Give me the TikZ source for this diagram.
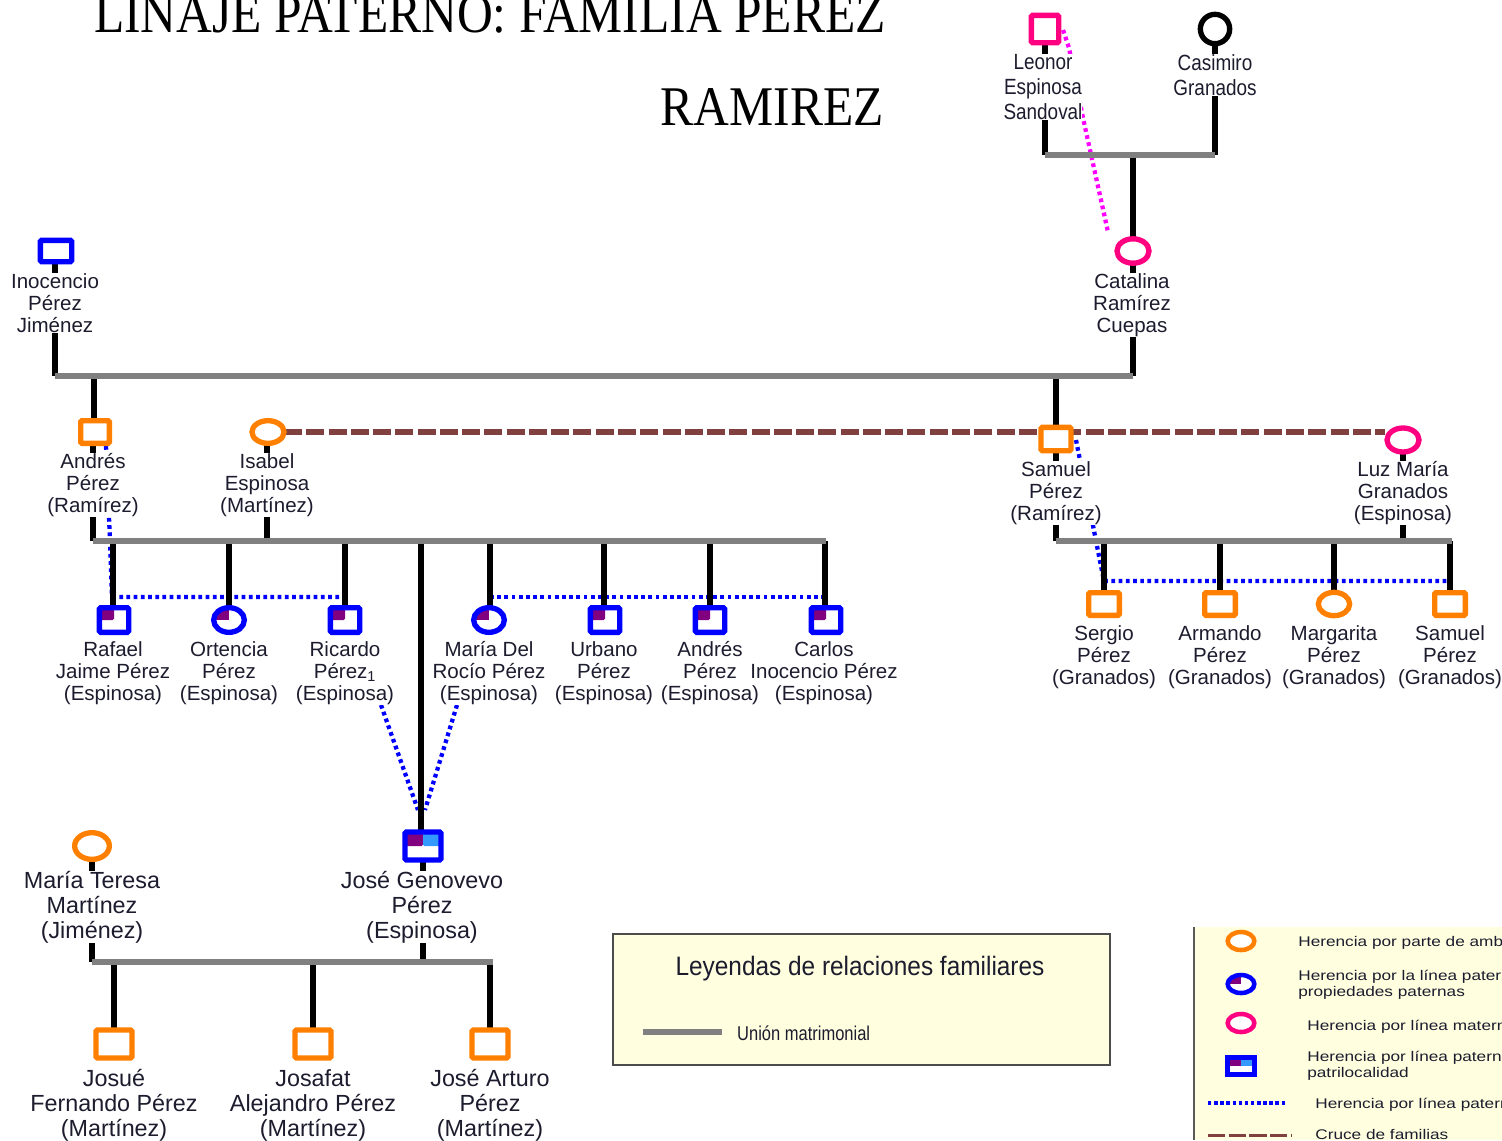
\documentclass[tikz,border=0pt]{standalone}
\usepackage{fontspec}
\setmainfont{Liberation Sans}
\newfontfamily\titlef{Liberation Serif}
\usetikzlibrary{shapes.geometric}
\definecolor{cOr}{HTML}{FF8000}
\definecolor{cBl}{HTML}{0000FF}
\definecolor{cPk}{HTML}{FF0080}
\definecolor{cMg}{HTML}{FF00FF}
\definecolor{cPu}{HTML}{800080}
\definecolor{cSk}{HTML}{3399FF}
\definecolor{cBr}{HTML}{804040}
\definecolor{cGr}{HTML}{808080}
\definecolor{cYl}{HTML}{FFFFE0}
\definecolor{cTx}{HTML}{1C1C2E}
\pgfdeclarelayer{dotlayer}
\pgfdeclarelayer{linelayer}
\pgfdeclarelayer{barlayer}
\pgfsetlayers{dotlayer,linelayer,barlayer,main}
\tikzset{
  x=0.75pt,y=-0.75pt,
  sym/.style={draw,fill=white,line width=4pt,inner sep=0pt,outer sep=0pt},
  sq/.style={sym,rectangle,rounded corners=1pt,minimum width=22pt,minimum height=18pt},
  sqbig/.style={sym,rectangle,rounded corners=1pt,minimum width=27pt,minimum height=21pt},
  el/.style={sym,ellipse,minimum width=24pt,minimum height=18pt},
  elbig/.style={sym,ellipse,minimum width=26pt,minimum height=20pt},
  quart/.style={path picture={\fill[cPu] (path picture bounding box.center) rectangle (path picture bounding box.north west);}},
  nm/.style={align=center,text=cTx,fill=white,inner sep=0pt,outer sep=0pt,font=\fontsize{15.4}{16.5}\selectfont},
  nmbig/.style={align=center,text=cTx,fill=white,inner sep=0pt,outer sep=0pt,font=\fontsize{17.5}{18.75}\selectfont},
  nmtop/.style={align=center,text=cTx,fill=white,inner sep=0pt,outer sep=0pt,transform shape,xscale=.86,font=\fontsize{16.5}{18.75}\selectfont},
  kin/.style={line width=4.2pt,black},
  bar/.style={line width=4.2pt,cGr},
  blue dots/.style={line width=3.2pt,cBl,dash pattern=on 2.8pt off 2.6pt},
  pink dots/.style={line width=3.2pt,cMg,dash pattern=on 2.8pt off 2.6pt},
  cross/.style={line width=3.8pt,cBr,dash pattern=on 13.5pt off 3.2pt},
  ttl/.style={inner sep=0pt,text=black,transform shape,xscale=.885,font=\titlef\fontsize{42}{46}\selectfont},
  legt/.style={anchor=west,inner sep=0pt,align=left,text=cTx,transform shape,xscale=1.23,font=\fontsize{10.5}{11.8}\selectfont},
}
\begin{document}
\begin{tikzpicture}
\useasboundingbox (0,0) rectangle (1502,1140);
\clip (0,0) rectangle (1502,1140);

% title
\node[ttl,anchor=base east] (t1) at (886,32) {LINAJE PATERNO: FAMILIA PEREZ};
\node[ttl,anchor=base east] (t2) at (884,125) {RAMIREZ};

% symbols
\node[sq,draw=cPk,minimum width=20.5pt,minimum height=20.5pt] (leonor) at (1045,29) {};
\node[el,draw=black,minimum width=22pt,minimum height=22pt] (casimiro) at (1215,29) {};
\node[sq,draw=cBl,minimum height=16pt,minimum width=23.5pt] (inocencio) at (56,251) {};
\node[el,draw=cPk,minimum height=18.3pt] (catalina) at (1133,251) {};
\node[sq,draw=cOr,minimum width=21.5pt,minimum height=17pt] (andres) at (95,432) {};
\node[el,draw=cOr,minimum height=17pt] (isabel) at (268,432) {};
\node[sq,draw=cOr,minimum width=22.5pt,minimum height=17.5pt] (samuel) at (1056,439) {};
\node[el,draw=cPk,minimum height=18pt] (luz) at (1403,440) {};
\node[sq,draw=cBl,quart,minimum height=18.5pt] (rafael) at (114,620) {};
\node[el,draw=cBl,quart,minimum width=23pt,minimum height=18.5pt] (ortencia) at (229,620) {};
\node[sq,draw=cBl,quart,minimum height=18.5pt] (ricardo) at (345,620) {};
\node[el,draw=cBl,quart,minimum width=23pt,minimum height=18.5pt] (maria) at (489,620) {};
\node[sq,draw=cBl,quart,minimum height=18.5pt] (urbano) at (605,620) {};
\node[sq,draw=cBl,quart,minimum height=18.5pt] (andresb) at (710,620) {};
\node[sq,draw=cBl,quart,minimum height=18.5pt] (carlos) at (826,620) {};
\node[sq,draw=cOr,minimum width=23pt,minimum height=17pt] (sergio) at (1104,604) {};
\node[sq,draw=cOr,minimum width=23pt,minimum height=17pt] (armando) at (1220,604) {};
\node[el,draw=cOr,minimum width=23.5pt,minimum height=17.5pt] (margarita) at (1334,604) {};
\node[sq,draw=cOr,minimum width=23pt,minimum height=17pt] (samuelb) at (1450,604) {};
\node[sqbig,draw=cBl,path picture={
   \fill[cPu] (path picture bounding box.center) rectangle (path picture bounding box.north west);
   \fill[cSk] (path picture bounding box.center) rectangle (path picture bounding box.north east);}] (jose) at (423,846) {};
\node[elbig,draw=cOr] (teresa) at (92,846) {};
\node[sqbig,draw=cOr] (josue) at (114,1044) {};
\node[sqbig,draw=cOr] (josafat) at (313,1044) {};
\node[sqbig,draw=cOr] (arturo) at (490,1044) {};

% names
\node[nmtop] (nLeonor) at (1043,87) {Leonor\\Espinosa\\Sandoval};
\node[nmtop] (nCasimiro) at (1215,75) {Casimiro\\Granados};
\node[nm] (nInocencio) at (55,303) {Inocencio\\Pérez\\Jiménez};
\node[nm] (nCatalina) at (1132,305) {Catalina\\Ramírez\\Cuepas};
\node[nm] (nAndres) at (93,485) {Andrés\\Pérez\\(Ramírez)};
\node[nm] (nIsabel) at (267,485) {Isabel\\Espinosa\\(Martínez)};
\node[nm] (nSamuel) at (1056,493) {Samuel\\Pérez\\(Ramírez)};
\node[nm] (nLuz) at (1403,493) {Luz María\\Granados\\(Espinosa)};
\node[nm] (nRafael) at (113,673) {Rafael\\Jaime Pérez\\(Espinosa)};
\node[nm] (nOrtencia) at (229,673) {Ortencia\\Pérez\\(Espinosa)};
\node[nm] (nRicardo) at (345,673) {Ricardo\\Pérez\textsubscript{1}\\(Espinosa)};
\node[nm] (nMaria) at (489,673) {María Del\\Rocío Pérez\\(Espinosa)};
\node[nm] (nUrbano) at (604,673) {Urbano\\Pérez\\(Espinosa)};
\node[nm] (nAndresb) at (710,673) {Andrés\\Pérez\\(Espinosa)};
\node[nm,fill=none] (nCarlos) at (824,673) {Carlos\\Inocencio Pérez\\(Espinosa)};
\node[nm] (nSergio) at (1104,657) {Sergio\\Pérez\\(Granados)};
\node[nm] (nArmando) at (1220,657) {Armando\\Pérez\\(Granados)};
\node[nm] (nMargarita) at (1334,657) {Margarita\\Pérez\\(Granados)};
\node[nm] (nSamuelb) at (1450,657) {Samuel\\Pérez\\(Granados)};
\node[nmbig] (nJose) at (422,907) {José Genovevo\\Pérez\\(Espinosa)};
\node[nmbig] (nTeresa) at (92,907) {María Teresa\\Martínez\\(Jiménez)};
\node[nmbig] (nJosue) at (114,1105) {Josué\\Fernando Pérez\\(Martínez)};
\node[nmbig] (nJosafat) at (313,1105) {Josafat\\Alejandro Pérez\\(Martínez)};
\node[nmbig] (nArturo) at (490,1105) {José Arturo\\Pérez\\(Martínez)};

% junctions
\coordinate (topL) at (1045,155); \coordinate (topR) at (1215,155); \coordinate (topM) at (1133,155);
\coordinate (gL) at (55,376); \coordinate (gR) at (1133,376); \coordinate (gA) at (94,376); \coordinate (gS) at (1056,376);
\coordinate (aL) at (93,541); \coordinate (aR) at (826,541);
\coordinate (aIs) at (267,541); \coordinate (a1) at (113,541); \coordinate (a2) at (229,541); \coordinate (a3) at (345,541); \coordinate (a4) at (421,541); \coordinate (a5) at (490,541); \coordinate (a6) at (604,541); \coordinate (a7) at (710,541); \coordinate (a8) at (825,541);
\coordinate (sL) at (1056,541); \coordinate (sR) at (1452,541); \coordinate (sLz) at (1403,541);
\coordinate (s1) at (1104,541); \coordinate (s2) at (1220,541); \coordinate (s3) at (1334,541); \coordinate (s4) at (1450,541);
\coordinate (jL) at (92,962); \coordinate (jR) at (493,962); \coordinate (jJ) at (423,962);
\coordinate (j1) at (114,962); \coordinate (j2) at (313,962); \coordinate (j3) at (490,962);
\coordinate (luzW) at (1385,432);

\begin{pgfonlayer}{linelayer}
\draw[kin] (leonor.south -| topL) -- (topL);
\draw[kin] (casimiro) -- (topR);
\draw[kin] (topM) -- (catalina);
\draw[kin] (inocencio.south -| gL) -- (gL);
\draw[kin] (catalina) -- (gR);
\draw[kin] (gA) -- (gA |- andres.north);
\draw[kin] (gS) -- (samuel);
\draw[kin] (aL |- andres.south) -- (aL);
\draw[kin] (isabel.south -| aIs) -- (aIs);
\draw[kin] (samuel) -- (sL);
\draw[kin] (luz) -- (sLz);
\draw[kin] (a1) -- (a1 |- rafael.north);
\draw[kin] (a2) -- (ortencia);
\draw[kin] (a3) -- (ricardo);
\draw[kin] (a4) -- (a4 |- jose.north);
\draw[kin] (a5) -- (a5 |- maria.north);
\draw[kin] (a6) -- (a6 |- urbano.north);
\draw[kin] (a7) -- (andresb);
\draw[kin] (a8) -- (a8 |- carlos.north);
\draw[kin] (s1) -- (sergio);
\draw[kin] (s2) -- (armando);
\draw[kin] (s3) -- (margarita);
\draw[kin] (s4) -- (samuelb);
\draw[kin] (jose) -- (jJ);
\draw[kin] (teresa) -- (jL);
\draw[kin] (j1) -- (josue);
\draw[kin] (j2) -- (josafat);
\draw[kin] (j3) -- (arturo);
\draw[cross] (isabel.east) -- (luzW);
\end{pgfonlayer}

\begin{pgfonlayer}{barlayer}
\draw[bar] (topL) -- (topR);
\draw[bar] (gL) -- (gR);
\draw[bar] (aL) -- (aR);
\draw[bar] (sL) -- (sR);
\draw[bar] (jL) -- (jR);
\end{pgfonlayer}

\begin{pgfonlayer}{dotlayer}
\coordinate (d1) at (106,446); \coordinate (d2) at (110,541); \coordinate (d3) at (112,597);
\draw[blue dots] (d1) -- (d2) -- (d3) -- (a3 |- d3);
\draw[blue dots] (a5 |- d3) -- (a8 |- d3);
\coordinate (e1) at (1076,440); \coordinate (e2) at (1088,500); \coordinate (e3) at (1096,541); \coordinate (e4) at (1104,581);
\draw[blue dots] (e1) -- (e2) -- (e3) -- (e4) -- (s4 |- e4);
\coordinate (f1) at (381,705); \coordinate (f2) at (457,705); \coordinate (f3) at (418,810); \coordinate (f4) at (425,810);
\draw[blue dots] (f1) -- (f3);
\draw[blue dots] (f2) -- (f4);
\coordinate (g1) at (1063,30); \coordinate (g2) at (1069,48); \coordinate (g3) at (1083,118); \coordinate (g4) at (1108,232);
\draw[pink dots] (g1) -- (g2) -- (g3) -- (g4);
\end{pgfonlayer}

% legend 1
\node[draw=black!70,line width=.8pt,fill=cYl,inner sep=0pt,minimum width=372.75pt,minimum height=98.25pt] (box) at (861.5,999.5) {};
\node[text=cTx,inner sep=0pt,transform shape,xscale=.915,font=\fontsize{20}{22}\selectfont] (boxT) at (860,969) {Leyendas de relaciones familiares};
\coordinate (uL) at (643,1032); \coordinate (uR) at (722,1032);
\draw[bar] (uL) -- (uR);
\node[anchor=west,text=cTx,inner sep=0pt,transform shape,xscale=.825,font=\fontsize{15}{17}\selectfont] (uT) at (737,1033) {Unión matrimonial};

% legend 2
\fill[cYl] (1194,927) rectangle (1502,1140);
\draw[black!65,line width=1.5pt] (1194,927) -- (1194,1140);
\node[sym,ellipse,draw=cOr,line width=3.4pt,minimum width=20pt,minimum height=13.5pt] (l1) at (1241,941) {};
\node[sym,ellipse,draw=cBl,line width=3.4pt,minimum width=20pt,minimum height=13.5pt,quart] (l2) at (1241,984) {};
\node[sym,ellipse,draw=cPk,line width=3.4pt,minimum width=20pt,minimum height=13.5pt] (l3) at (1241,1023) {};
\node[sym,rectangle,draw=cBl,line width=3.4pt,minimum width=20pt,minimum height=13pt,path picture={
   \fill[cPu] (path picture bounding box.center) rectangle (path picture bounding box.north west);
   \fill[cSk] (path picture bounding box.center) rectangle (path picture bounding box.north east);}] (l4) at (1241,1066) {};
\coordinate (l5a) at (1208,1103); \coordinate (l5b) at (1287,1103);
\draw[cBl,line width=2.4pt,dash pattern=on 2.6pt off 2pt] (l5a) -- (l5b);
\coordinate (l6a) at (1208,1135.5); \coordinate (l6b) at (1292,1135.5);
\draw[cBr,line width=2.8pt,dash pattern=on 13pt off 2.5pt] (l6a) -- (l6b);
\node[legt] (tl1) at (1298,942.5) {Herencia por parte de amb};
\node[legt] (tl2) at (1298,985) {Herencia por la línea patern\\propiedades paternas};
\node[legt] (tl3) at (1307,1026.5) {Herencia por línea matern};
\node[legt] (tl4) at (1307,1066) {Herencia por línea patern\\patrilocalidad};
\node[legt] (tl5) at (1315,1104.5) {Herencia por línea patern};
\node[legt] (tl6) at (1315,1134) {Cruce de familias};
\end{tikzpicture}
\end{document}
